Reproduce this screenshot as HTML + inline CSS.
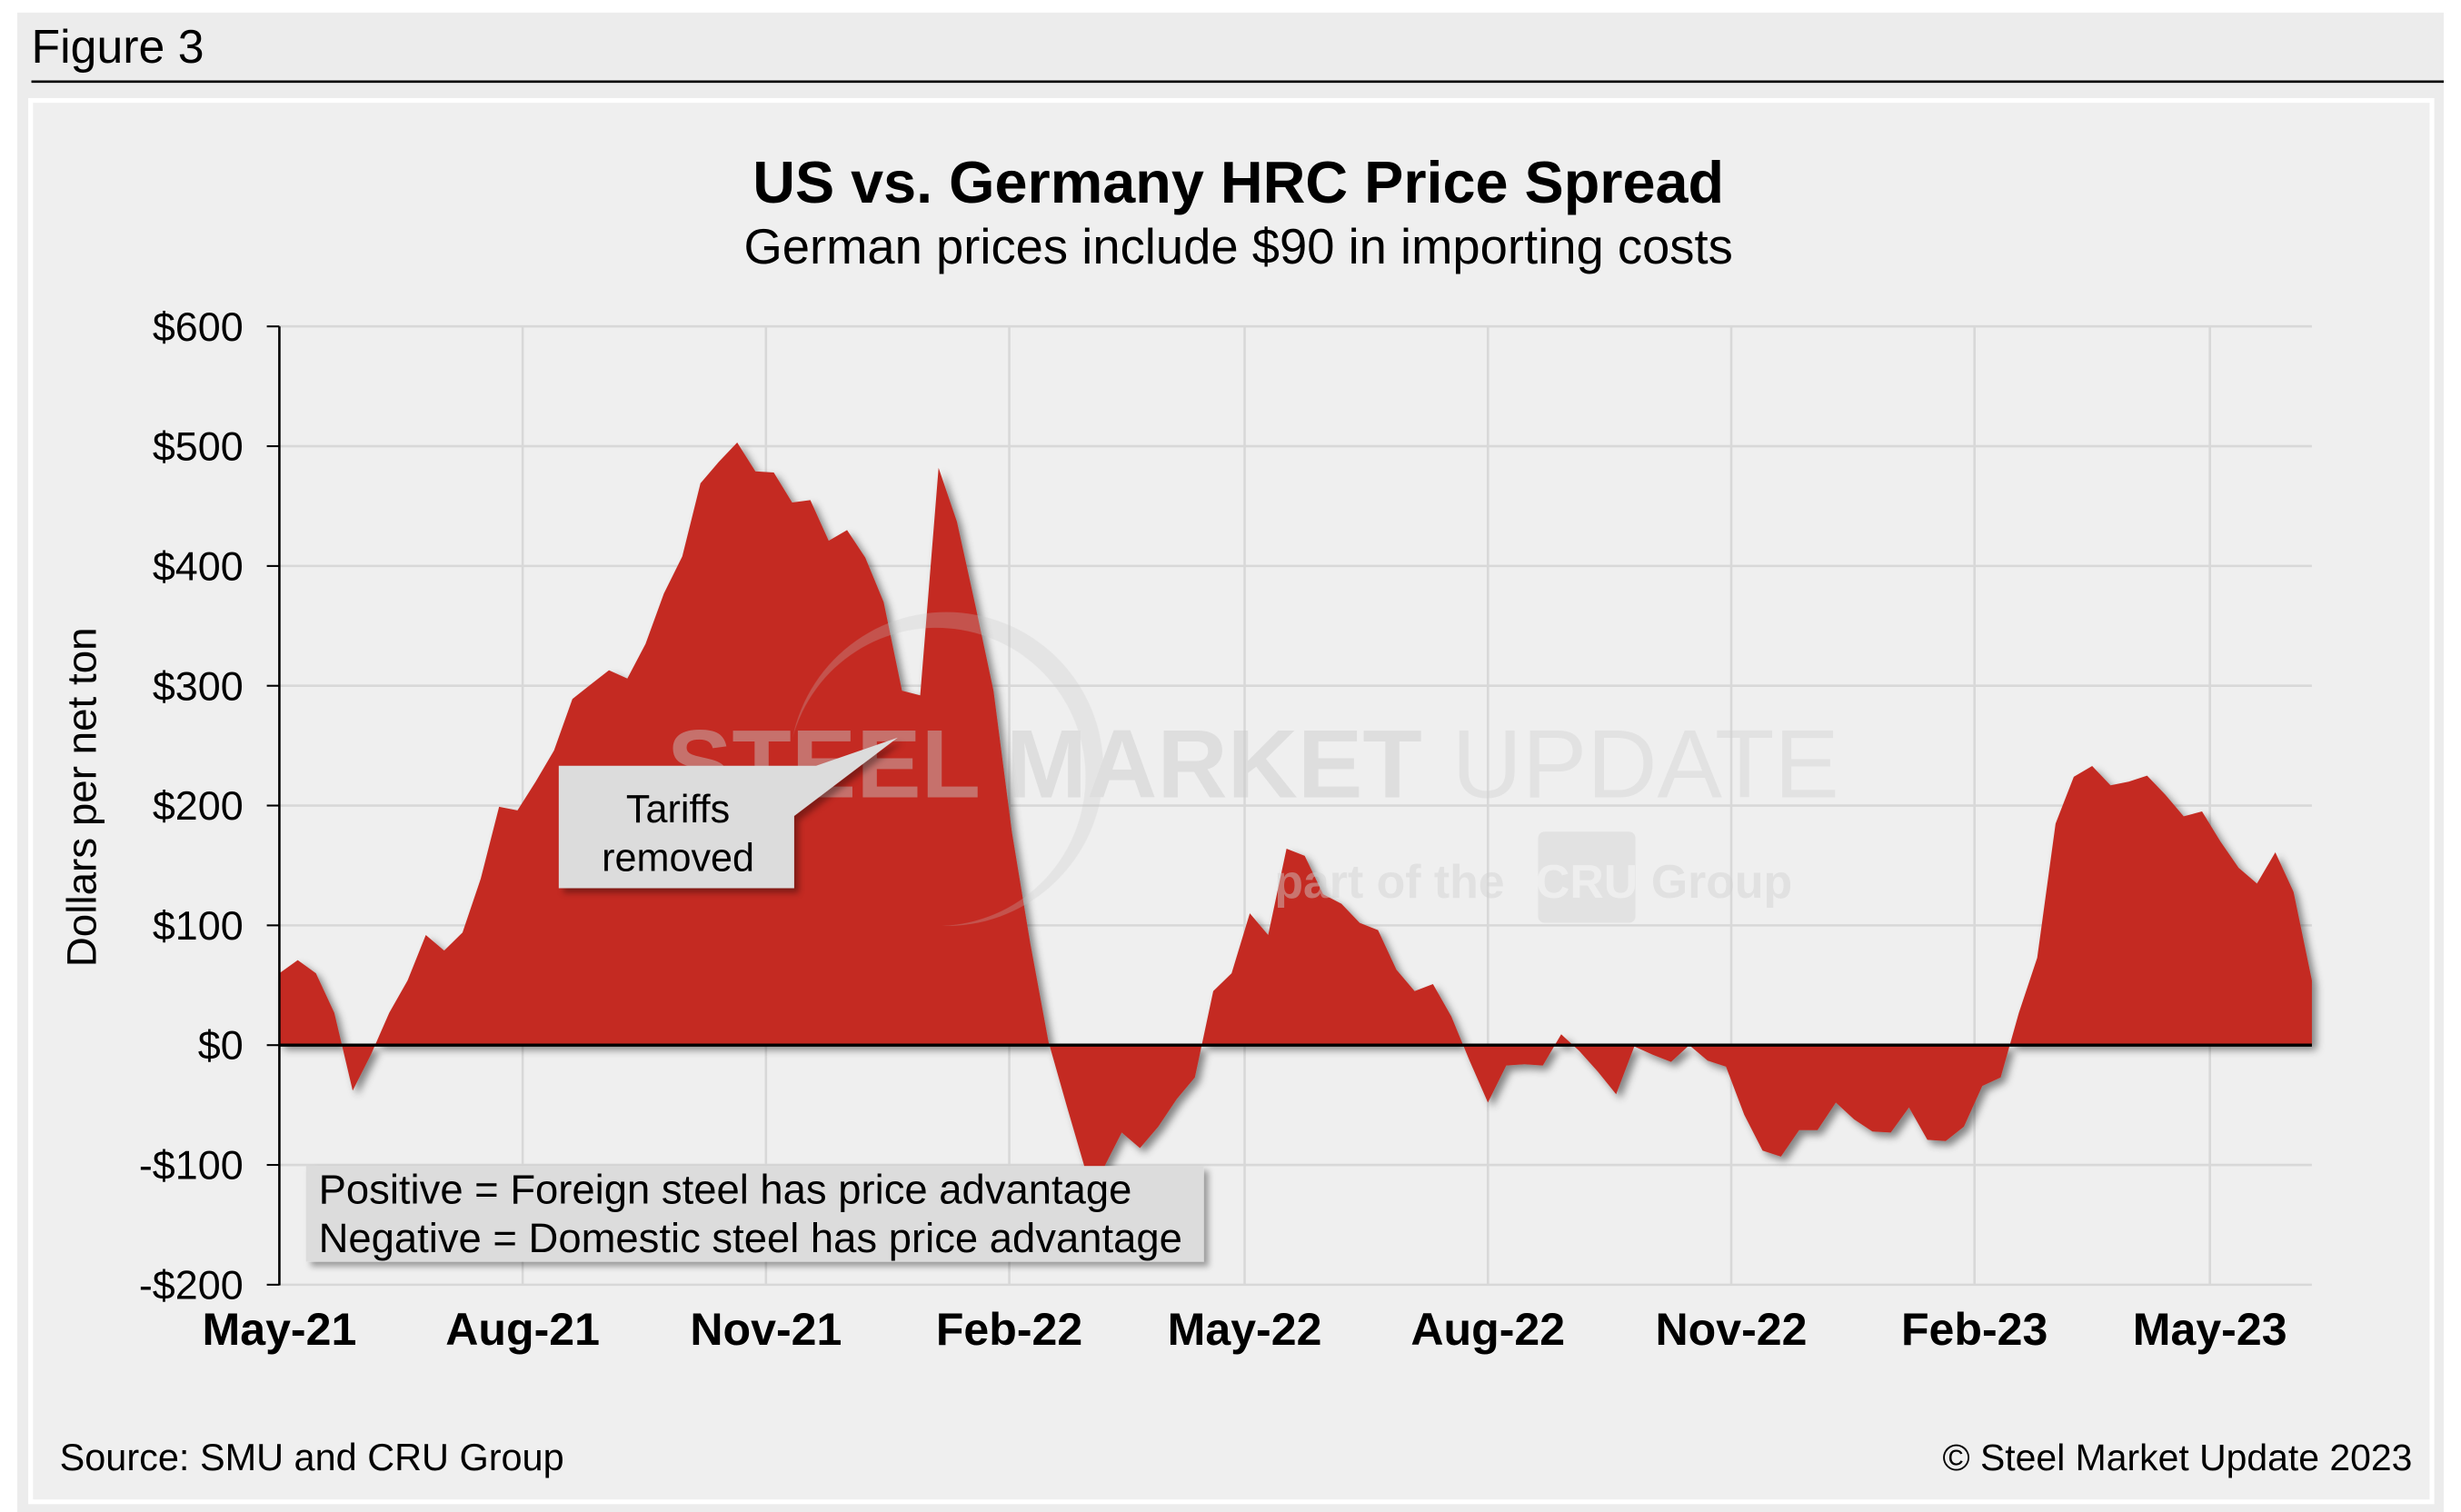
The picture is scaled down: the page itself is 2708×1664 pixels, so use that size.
<!DOCTYPE html>
<html><head><meta charset="utf-8"><style>
html,body{margin:0;padding:0;background:#fff;}
svg{display:block;font-family:"Liberation Sans",Arial,sans-serif;}
</style></head><body>
<svg id="chart" width="2708" height="1664" viewBox="0 0 1568 963.5" xmlns="http://www.w3.org/2000/svg">
<defs>
<filter id="sh" x="-5%" y="-5%" width="110%" height="110%"><feDropShadow dx="3" dy="3" stdDeviation="2.5" flood-color="#000" flood-opacity="0.45"/></filter>
<filter id="sh2" x="-10%" y="-10%" width="130%" height="130%"><feDropShadow dx="3" dy="3" stdDeviation="2" flood-color="#000" flood-opacity="0.35"/></filter>
</defs>
<rect x="11" y="8" width="1546" height="956" fill="#ececec"/>
<text x="20" y="40" font-size="30" fill="#000">Figure 3</text>
<line x1="20" y1="52" x2="1557" y2="52" stroke="#000" stroke-width="1.5"/>
<rect x="19.5" y="64" width="1530" height="893" fill="#efefef" stroke="#fff" stroke-width="3"/>
<text x="789" y="129" font-size="37.5" font-weight="bold" text-anchor="middle">US vs. Germany HRC Price Spread</text>
<text x="789" y="168" font-size="31.5" text-anchor="middle">German prices include $90 in importing costs</text>
<g id="grid"></g>
<g id="area"></g>
<g opacity="0.45">
<path d="M505 470 A100 100 0 1 1 600 590 A95 95 0 1 0 505 470 Z" fill="#c8c8c8" opacity="0.6"/>
<text x="425" y="508" font-size="62" font-weight="bold" fill="#c9c9c9">STEEL MARKET</text>
<text x="925" y="508" font-size="62" fill="#d3d3d3">UPDATE</text>
<text x="812" y="572" font-size="30" font-weight="bold" fill="#d0d0d0">part of the</text>
<rect x="980" y="530" width="62" height="58" rx="4" fill="#d3d3d3"/>
<text x="1011" y="572" font-size="30" font-weight="bold" fill="#ececec" text-anchor="middle">CRU</text>
<text x="1052" y="572" font-size="30" font-weight="bold" fill="#d0d0d0">Group</text>
</g>
<g id="axes"></g>
<text transform="translate(61,508) rotate(-90)" font-size="26.5" text-anchor="middle">Dollars per net ton</text>
<g>
<rect x="195" y="743" width="572" height="61" fill="#dcdcdc" filter="url(#sh2)"/>
<text x="203" y="767" font-size="26.3">Positive = Foreign steel has price advantage</text>
<text x="203" y="798" font-size="26.3">Negative = Domestic steel has price advantage</text>
</g>
<g>
<path d="M356 488 H520 L572 470 L506 520 V566 H356 Z" fill="#dcdcdc" filter="url(#sh2)"/>
<text x="432" y="524" font-size="25" text-anchor="middle">Tariffs</text>
<text x="432" y="555" font-size="25" text-anchor="middle">removed</text>
</g>
<text x="38" y="937" font-size="24">Source: SMU and CRU Group</text>
<text x="1537" y="937" font-size="23.7" text-anchor="end">© Steel Market Update 2023</text>
</svg>
<script>
const spreadValues = [60,71,60,27,-38,-8,27,54,92,79,94,139,199,196,220,246,289,301,313,306,335,377,408,469,487,503,479,478,453,455,421,430,407,370,296,292,482,437,368,296,178,86,3,-51,-103,-103,-73,-86,-68,-45,-27,45,60,110,92,164,158,126,118,102,96,63,45,51,24,-13,-48,-17,-16,-17,9,-5,-22,-41,-1,-8,-14,0,-13,-18,-58,-88,-93,-71,-71,-48,-62,-72,-73,-52,-79,-80,-68,-34,-27,27,73,185,224,233,217,220,225,209,191,195,170,148,135,161,128,54];
const yTicks = [-200,-100,0,100,200,300,400,500,600];
const yTickLabels = ["-$200","-$100","$0","$100","$200","$300","$400","$500","$600"];
const xTickDates = ["2021-05-01","2021-08-01","2021-11-01","2022-02-01","2022-05-01","2022-08-01","2022-11-01","2023-02-01","2023-05-01"];
const xTickLabels = ["May-21","Aug-21","Nov-21","Feb-22","May-22","Aug-22","Nov-22","Feb-23","May-23"];

const NS="http://www.w3.org/2000/svg";
const X0=178, X1=1473, Y0=208, Y1=819;
const t0=Date.parse(xTickDates[0]), tRef=Date.parse(xTickDates[xTickDates.length-1]);
function xd(ms){return X0+(ms-t0)/(tRef-t0)*(1408-X0);}
function xi(i){return X0+i*(X1-X0)/(spreadValues.length-1);}
function y(v){return 666-(v)*(666-208)/600;}
function mk(tag,attrs,parent){const e=document.createElementNS(NS,tag);for(const k in attrs)e.setAttribute(k,attrs[k]);parent.appendChild(e);return e;}
const grid=document.getElementById('grid'), axes=document.getElementById('axes'), area=document.getElementById('area');
yTicks.forEach((v,i)=>{
  const l=mk('line',{x1:X0,x2:X1,y1:y(v),y2:y(v),stroke:'#d8d8d8','stroke-width':1.5},grid);
  
  
  const tk=mk('line',{x1:X0-8,x2:X0,y1:y(v),y2:y(v),stroke:'#000','stroke-width':1.2},axes);
  
  
  const t=mk('text',{x:155,y:y(v)+9,'font-size':26,'text-anchor':'end'},axes);
  t.textContent=yTickLabels[i];
  
  
});
xTickDates.forEach((d,i)=>{
  const xx=xd(Date.parse(d));
  if(i>0){const l=mk('line',{x1:xx,x2:xx,y1:Y0,y2:Y1,stroke:'#d8d8d8','stroke-width':1.5},grid);
  
  }
  const t=mk('text',{x:xx,y:857,'font-size':29,'font-weight':'bold','text-anchor':'middle'},axes);
  t.textContent=xTickLabels[i];
  
  
});
const pts=spreadValues.map((v,i)=>[xi(i),y(v)]);
const d='M'+pts[0][0]+','+y(0)+' '+pts.map(p=>'L'+p[0].toFixed(1)+','+p[1].toFixed(1)).join(' ')+' L'+pts[pts.length-1][0]+','+y(0)+'Z';
const a=mk('path',{d:d,fill:'#c42b20',filter:'url(#sh)'},area);


const z=mk('line',{x1:X0,x2:X1,y1:y(0),y2:y(0),stroke:'#000','stroke-width':2},axes);


const ya=mk('line',{x1:X0,x2:X0,y1:Y0,y2:Y1,stroke:'#000','stroke-width':1.5},axes);


</script>
</body></html>
